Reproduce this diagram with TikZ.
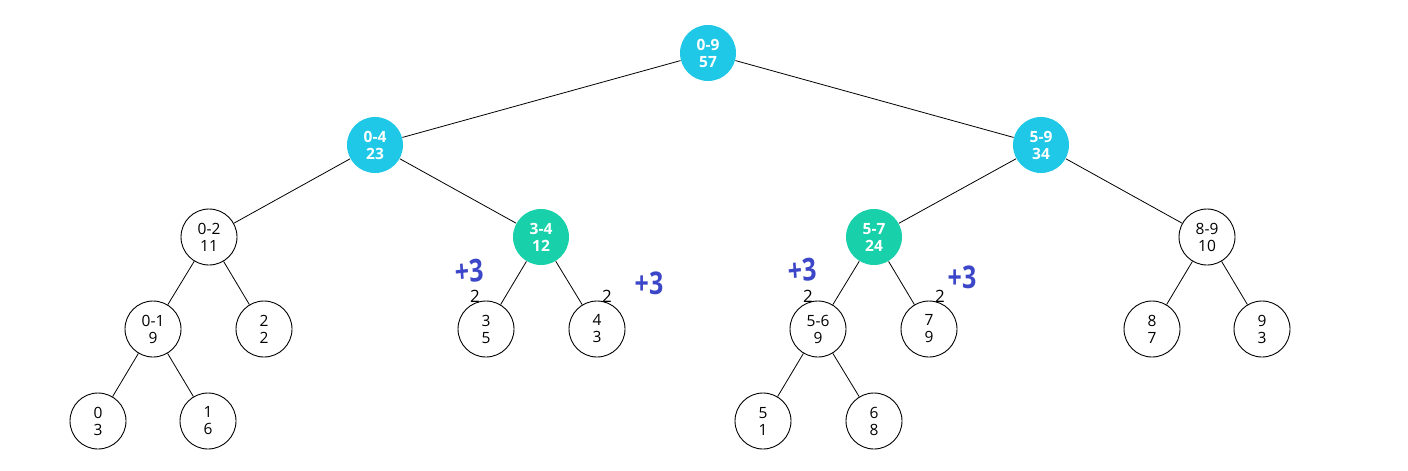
\documentclass[tikz,border=0pt]{standalone}
\usepackage{fontspec}
\setmainfont{Open Sans}
\definecolor{segblue}{RGB}{30,200,230}
\definecolor{segteal}{RGB}{24,209,170}
\definecolor{inkblue}{RGB}{60,70,200}
\newcommand{\tagfont}{\fontsize{17}{19}\selectfont}
\begin{document}
\begin{tikzpicture}[x=1pt,y=-1pt,
  seg/.style={circle,draw=black,line width=0.9pt,fill=white,minimum size=56pt,inner sep=0pt,align=center,font=\fontsize{15.5}{17}\selectfont},
  hot/.style={seg,draw=none,fill=segblue,text=white,font=\fontsize{15.5}{17}\selectfont\bfseries},
  lazy/.style={seg,draw=none,fill=segteal,text=white,font=\fontsize{15.5}{17}\selectfont\bfseries},
  treeline/.style={line width=0.8pt},
  lazytag/.style={inner sep=0pt},
  annot/.style={text=inkblue,font=\fontsize{25}{27}\selectfont\bfseries,inner sep=0pt,yscale=1.25,transform shape}]
\useasboundingbox (0,0) rectangle (1408,471);
\fill[white] (0,0) rectangle (1408,471);
% nodes
\node[hot] (r) at (708,53) {0-9\\57};
\node[hot] (a) at (375,145) {0-4\\23};
\node[hot] (b) at (1041,145) {5-9\\34};
\node[seg] (c) at (209,237) {0-2\\11};
\node[lazy] (d) at (541,237) {3-4\\12};
\node[lazy] (e) at (874,237) {5-7\\24};
\node[seg] (f) at (1207,237) {8-9\\10};
\node[seg] (g) at (153,329) {0-1\\9};
\node[seg] (h) at (264,329) {2\\2};
\node[seg] (i) at (486,329) {3\\5};
\node[seg] (j) at (597,329) {4\\3};
\node[seg] (k) at (818,329) {5-6\\9};
\node[seg] (l) at (929,329) {7\\9};
\node[seg] (m) at (1152,329) {8\\7};
\node[seg] (n) at (1262,329) {9\\3};
\node[seg] (o) at (98,421) {0\\3};
\node[seg] (p) at (208,421) {1\\6};
\node[seg] (q) at (763,421) {5\\1};
\node[seg] (s) at (874,421) {6\\8};
% edges
\draw[treeline] (r) -- (a); \draw[treeline] (r) -- (b);
\draw[treeline] (a) -- (c); \draw[treeline] (a) -- (d);
\draw[treeline] (b) -- (e); \draw[treeline] (b) -- (f);
\draw[treeline] (c) -- (g); \draw[treeline] (c) -- (h);
\draw[treeline] (d) -- (i); \draw[treeline] (d) -- (j);
\draw[treeline] (e) -- (k); \draw[treeline] (e) -- (l);
\draw[treeline] (f) -- (m); \draw[treeline] (f) -- (n);
\draw[treeline] (g) -- (o); \draw[treeline] (g) -- (p);
\draw[treeline] (k) -- (q); \draw[treeline] (k) -- (s);
% lazy tags
\node[lazytag] (t1) at (475,296) {\tagfont 2};
\node[lazytag] (t2) at (607,296) {\tagfont 2};
\node[lazytag] (t3) at (808,296) {\tagfont 2};
\node[lazytag] (t4) at (940,296) {\tagfont 2};
% handwritten annotations
\node[annot,rotate=5] (h1) at (469,271) {+3};
\node[annot] (h2) at (649,283) {+3};
\node[annot,rotate=5] (h3) at (802,270) {+3};
\node[annot] (h4) at (962,277) {+3};
\end{tikzpicture}
\end{document}
